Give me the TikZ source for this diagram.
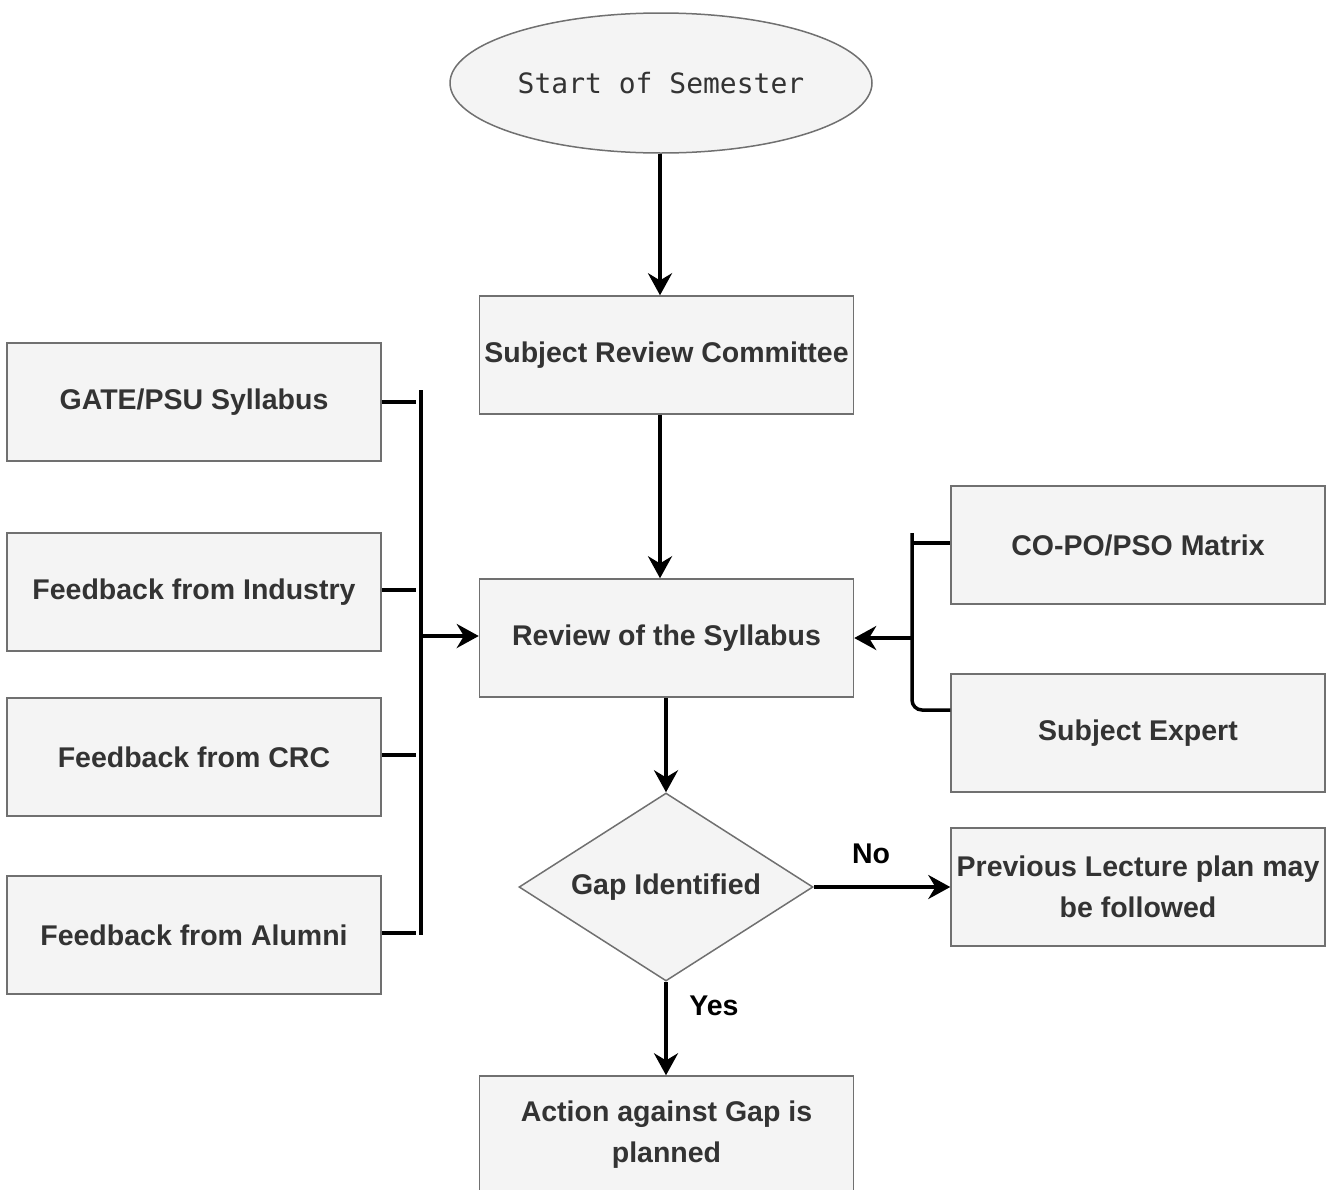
\documentclass[tikz,border=0pt]{standalone}
\usepackage{fontspec}
\setmainfont{Liberation Sans}
\newfontfamily\monofont{DejaVu Sans Mono}
\usetikzlibrary{shapes.geometric,arrows.meta}
\definecolor{boxfill}{HTML}{F4F4F4}
\definecolor{boxline}{HTML}{707070}
\definecolor{boxtext}{HTML}{333333}
\tikzset{
  procbox/.style={draw=boxline, fill=boxfill, line width=1.5pt, minimum width=374pt,
    minimum height=118pt, inner sep=0pt, align=center, text=boxtext,
    font=\fontsize{28.5}{41}\selectfont\bfseries},
  startnode/.style={ellipse, draw=boxline, fill=boxfill, line width=1.5pt,
    minimum width=422pt, minimum height=140pt, inner sep=0pt, text=boxtext,
    font=\monofont\fontsize{28}{34}\selectfont},
  decision/.style={diamond, draw=boxline, fill=boxfill, line width=1.5pt,
    minimum width=294pt, minimum height=188pt, inner sep=0pt, aspect=1.56, text=boxtext,
    font=\fontsize{28.5}{34}\selectfont\bfseries},
  flow/.style={line width=3.5pt, -{Stealth[length=22pt,width=24pt]}},
  link/.style={line width=3.5pt},
  edgelabel/.style={font=\fontsize{28.5}{34}\selectfont\bfseries, text=black}
}
\begin{document}
\begin{tikzpicture}[x=1pt,y=-1pt]
\useasboundingbox (0,0) rectangle (1337,1189);
\clip (0,0) rectangle (1337,1189);

% central column
\node[startnode] (start) at (661,83) {Start of Semester};
\node[procbox] (src) at (666.5,355) {Subject Review Committee};
\node[procbox] (rev) at (666.5,638) {Review of the Syllabus};
\node[decision] (gap) at (666,887) {Gap Identified};
\node[procbox] (act) at (666.5,1135) {Action against Gap is\\planned};

% inputs on the left
\node[procbox] (gate) at (194,402) {GATE/PSU Syllabus};
\node[procbox] (ind) at (194,592) {Feedback from Industry};
\node[procbox] (crc) at (194,757) {Feedback from CRC};
\node[procbox] (alu) at (194,935) {Feedback from Alumni};

% inputs on the right
\node[procbox] (copo) at (1138,545) {CO-PO/PSO Matrix};
\node[procbox] (exp) at (1138,733) {Subject Expert};
\node[procbox] (prev) at (1138,887) {Previous Lecture plan may\\be followed};

% main flow
\draw[flow] (start.south -| 660,0) -- (src.north -| 660,0);
\draw[flow] (src.south -| 660,0) -- (rev.north -| 660,0);
\draw[flow] (rev.south -| 666,0) -- (gap.north);
\draw[flow] (gap.south) -- (act.north -| 666,0);
\draw[flow] (gap.east) -- (prev.west) node[edgelabel, pos=0.42, above=18pt] {No};
\node[edgelabel] (yes) at (714,1006) {Yes};

% left bracket
\coordinate (lbtop) at (421,390);
\coordinate (lbbot) at (421,935);
\draw[link] (lbtop) -- (lbbot);
\draw[link] (gate.east) -- (gate.east -| 416,0);
\draw[link] (ind.east |- 0,590) -- (416,590);
\draw[link] (crc.east |- 0,755) -- (416,755);
\draw[link] (alu.east |- 0,933) -- (416,933);
\draw[flow] (421,636) -- (rev.west |- 0,636);

% right bracket
\coordinate (rbtop) at (912,533);
\draw[link, rounded corners=10pt] (rbtop) -- (912,710) -- (exp.west |- 0,710);
\draw[link] (912,543) -- (copo.west |- 0,543);
\draw[flow] (912,638) -- (rev.east);
\end{tikzpicture}
\end{document}
